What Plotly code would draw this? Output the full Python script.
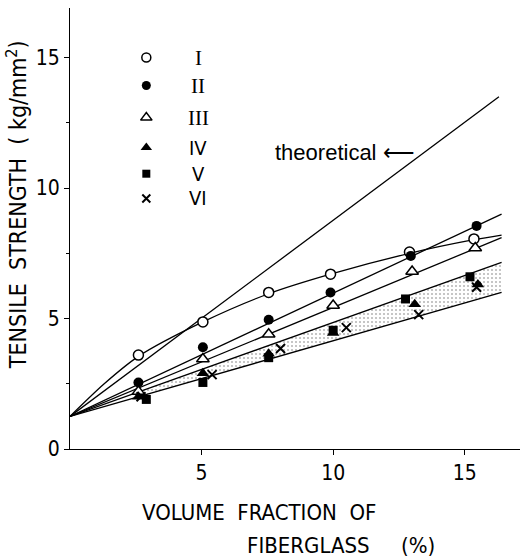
import plotly.graph_objects as go

# ---- data ----
vf_I = [2.6, 5.05, 7.55, 9.9, 12.9, 15.35]
ts_I = [3.6, 4.87, 6.0, 6.7, 7.55, 8.05]

vf_II = [2.6, 5.05, 7.55, 9.9, 12.95, 15.45]
ts_II = [2.55, 3.9, 4.95, 6.0, 7.4, 8.55]

vf_III = [2.6, 5.05, 7.55, 10.0, 13.0, 15.4]
ts_III = [2.2, 3.45, 4.4, 5.5, 6.8, 7.7]

vf_IV = [2.6, 5.05, 7.55, 10.0, 13.1, 15.5]
ts_IV = [2.0, 2.9, 3.65, 4.45, 5.55, 6.3]

vf_V = [2.9, 5.05, 7.55, 10.0, 12.75, 15.2]
ts_V = [1.9, 2.55, 3.5, 4.55, 5.75, 6.6]

vf_VI = [2.7, 5.4, 8.0, 10.5, 13.25, 15.45]
ts_VI = [2.0, 2.85, 3.85, 4.65, 5.15, 6.2]

# fitted curves
curve_I_x = [0, 1.3, 2.6, 5.05, 7.55, 9.9, 12.9, 15.35, 16.4]
curve_I_y = [1.25, 2.5, 3.55, 4.87, 5.95, 6.7, 7.5, 8.02, 8.2]
theo_x = [0, 16.3]
theo_y = [1.25, 13.5]
line_II_x = [0, 16.4]
line_II_y = [1.25, 9.0]
line_III_x = [0, 16.4]
line_III_y = [1.25, 8.1]
band_hi_x = [0, 16.4]
band_hi_y = [1.25, 7.15]
band_lo_x = [0, 16.4]
band_lo_y = [1.25, 6.0]
band_start = 2.8

legend_labels = ["I", "II", "III", "IV", "V", "VI"]
legend_y = [15.0, 13.93, 12.7, 11.55, 10.55, 9.6]
legend_x = 2.9
legend_label_x = 4.87

ytick_vals = [0, 5, 10, 15]
xtick_vals = [5, 10, 15]

# ---- figure ----
def lin(xs, ys, x):
    return ys[0] + (ys[1] - ys[0]) * (x - xs[0]) / (xs[1] - xs[0])

fig = go.Figure()
LW = 1.3
K = "black"

# stippled band
fig.add_trace(go.Scatter(x=[band_start, band_lo_x[1]],
                         y=[lin(band_lo_x, band_lo_y, band_start), band_lo_y[1]],
                         mode="lines", line=dict(width=0), showlegend=False, hoverinfo="skip"))
fig.add_trace(go.Scatter(x=[band_start, band_hi_x[1]],
                         y=[lin(band_hi_x, band_hi_y, band_start), band_hi_y[1]],
                         mode="lines", line=dict(width=0), fill="tonexty",
                         fillcolor="rgba(0,0,0,0)",
                         fillpattern=dict(shape=".", fgcolor="#666", bgcolor="white",
                                          size=4, solidity=0.2),
                         showlegend=False, hoverinfo="skip"))

for xs, ys in [(theo_x, theo_y), (line_II_x, line_II_y), (line_III_x, line_III_y),
               (band_hi_x, band_hi_y), (band_lo_x, band_lo_y)]:
    fig.add_trace(go.Scatter(x=xs, y=ys, mode="lines", line=dict(color=K, width=LW),
                             showlegend=False, hoverinfo="skip"))
fig.add_trace(go.Scatter(x=curve_I_x, y=curve_I_y, mode="lines",
                         line=dict(color=K, width=LW, shape="spline", smoothing=0.8),
                         showlegend=False, hoverinfo="skip"))

styles = [
    ("circle", 10, "white", dict(color=K, width=1.5)),
    ("circle", 10, K, dict(color=K, width=0)),
    ("triangle-up", 11, "white", dict(color=K, width=1.5)),
    ("triangle-up", 11, K, dict(color=K, width=0)),
    ("square", 9, K, dict(color=K, width=0)),
    ("x-thin-open", 9, K, dict(color=K, width=2)),
]
data = [(vf_I, ts_I), (vf_II, ts_II), (vf_III, ts_III), (vf_IV, ts_IV), (vf_V, ts_V), (vf_VI, ts_VI)]
for (sym, sz, mcolor, ln), (xs, ys), lab, ly in zip(styles, data, legend_labels, legend_y):
    fig.add_trace(go.Scatter(x=xs, y=ys, mode="markers", name=lab,
                             marker=dict(symbol=sym, size=sz, color=mcolor, line=ln),
                             showlegend=False))
    fig.add_trace(go.Scatter(x=[legend_x], y=[ly], mode="markers",
                             marker=dict(symbol=sym, size=sz - 1, color=mcolor, line=ln),
                             showlegend=False, hoverinfo="skip"))
    serif = lab in ("I", "II", "III")
    fig.add_annotation(x=legend_label_x, y=ly, text=lab, showarrow=False,
                       xanchor="center", yanchor="middle",
                       font=dict(family="Liberation Serif" if serif else "DejaVu Sans Condensed",
                                 size=21 if serif else 20, color=K))

fig.add_annotation(x=7.73, y=11.35, text="theoretical ⟵", showarrow=False,
                   xanchor="left", yanchor="middle",
                   font=dict(family="Liberation Sans", size=22, color=K))

TF = "DejaVu Sans Condensed"
fig.add_annotation(xref="paper", yref="paper", x=-0.118, y=0.555,
                   text="TENSILE  STRENGTH  ( kg/mm<sup>2</sup>)", textangle=-90,
                   showarrow=False, xanchor="center", yanchor="middle",
                   font=dict(family=TF, size=23, color=K))
fig.add_annotation(xref="paper", yref="paper", x=0.156, y=-0.143,
                   text="VOLUME  FRACTION  OF", showarrow=False,
                   xanchor="left", yanchor="middle",
                   font=dict(family=TF, size=22, color=K))
fig.add_annotation(xref="paper", yref="paper", x=0.389, y=-0.218,
                   text="FIBERGLASS     (%)", showarrow=False,
                   xanchor="left", yanchor="middle",
                   font=dict(family=TF, size=22, color=K))

fig.update_xaxes(range=[0, 17.1], showline=True, linecolor=K, linewidth=1.2,
                 tickvals=xtick_vals, ticks="outside", ticklen=5, tickcolor=K,
                 showgrid=False, zeroline=False,
                 tickfont=dict(family=TF, size=21, color=K))
fig.update_yaxes(range=[0, 16.9], showline=True, linecolor=K, linewidth=1.2,
                 tickvals=ytick_vals, ticks="outside", ticklen=5, tickcolor=K,
                 minor=dict(tickvals=[2.5, 7.5, 12.5], ticks="outside", ticklen=3, tickcolor=K),
                 showgrid=False, zeroline=False,
                 tickfont=dict(family=TF, size=21, color=K))

fig.update_layout(width=527, height=559, margin=dict(l=70, r=7, t=8, b=110),
                  plot_bgcolor="white", paper_bgcolor="white", showlegend=False)

fig.write_html("out.html")
